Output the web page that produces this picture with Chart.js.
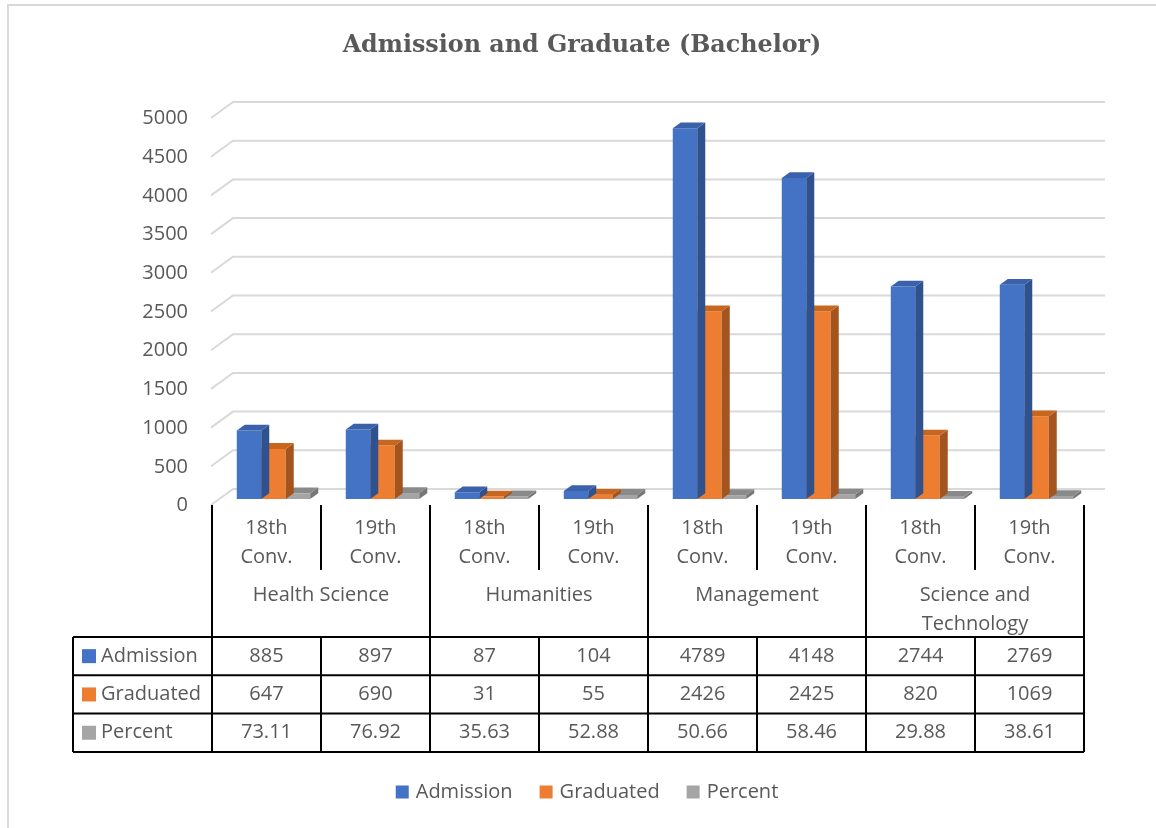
<!DOCTYPE html>
<html>
<head>
<meta charset="utf-8">
<title>Admission and Graduate (Bachelor)</title>
<script src="https://cdn.jsdelivr.net/npm/chart.js@4.4.1/dist/chart.umd.min.js"></script>
<style>
  html, body { margin: 0; padding: 0; background: #fff; }
  #wrap { width: 1156px; height: 828px; }
</style>
</head>
<body>
<div id="wrap"><canvas id="admChart" width="1156" height="828"></canvas></div>
<script>
// Data
const groups = ["Health Science", "Humanities", "Management", "Science and Technology"];
const categories = [
  "18th Conv.", "19th Conv.", "18th Conv.", "19th Conv.",
  "18th Conv.", "19th Conv.", "18th Conv.", "19th Conv.",
];
const admission = [885, 897, 87, 104, 4789, 4148, 2744, 2769];
const graduated = [647, 690, 31, 55, 2426, 2425, 820, 1069];
const percent = [73.11, 76.92, 35.63, 52.88, 50.66, 58.46, 29.88, 38.61];
const yMin = 0;
const yMax = 5000;
const yStep = 500;

const ink = "#595959";
const font = "'Open Sans', sans-serif";
const DX = 8, DY = 5.8; // fake depth of each bar
const SHIFT = 7; // bars sit a little right of the table columns

// Draws the 3D look, the data table, title, legend and frame
const excelLook = {
  id: "excelLook",
  beforeDatasetsDraw(chart) {
    const { ctx, chartArea: a, scales: { y } } = chart;
    ctx.save();
    ctx.strokeStyle = "#d9d9d9";
    ctx.lineWidth = 2;
    y.ticks.forEach((t) => {
      const py = y.getPixelForValue(t.value);
      ctx.beginPath();
      ctx.moveTo(a.left - 8, py + 6);
      ctx.lineTo(a.left + 14, py - 10);
      ctx.lineTo(a.right + 14, py - 10);
      ctx.stroke();
    });
    ctx.restore();
  },
  afterDatasetDraw(chart, args) {
    const ds = chart.data.datasets[args.index];
    const ctx = chart.ctx;
    ctx.save();
    args.meta.data.forEach((bar) => {
      const { x, y, base, width } = bar.getProps(["x", "y", "base", "width"], true);
      const l = x - width / 2;
      const r = x + width / 2;
      // side face
      ctx.fillStyle = ds.sideColor;
      ctx.beginPath();
      ctx.moveTo(r, y);
      ctx.lineTo(r + DX, y - DY);
      ctx.lineTo(r + DX, base - DY);
      ctx.lineTo(r, base);
      ctx.closePath();
      ctx.fill();
      // top face
      ctx.fillStyle = ds.topColor;
      ctx.beginPath();
      ctx.moveTo(l, y);
      ctx.lineTo(l + DX, y - DY);
      ctx.lineTo(r + DX, y - DY);
      ctx.lineTo(r, y);
      ctx.closePath();
      ctx.fill();
    });
    ctx.restore();
  },
  afterDraw(chart) {
    const { ctx, chartArea: a } = chart;
    const colW = (a.right - a.left) / categories.length;
    const xAt = (i) => a.left - SHIFT + i * colW;
    const labelTop = 505, subBottom = 570, tableTop = 637, rowH = 38.3;
    const tableLeft = 73;

    ctx.save();

    // frame
    ctx.strokeStyle = "#d9d9d9";
    ctx.lineWidth = 2;
    ctx.beginPath();
    ctx.moveTo(8, 828);
    ctx.lineTo(8, 5);
    ctx.lineTo(1156, 5);
    ctx.stroke();

    // title, sized to the width it has in the original
    const title = "Admission and Graduate (Bachelor)";
    ctx.fillStyle = ink;
    ctx.textAlign = "center";
    ctx.textBaseline = "alphabetic";
    ctx.font = "bold 24px 'DejaVu Serif', serif";
    const size = 24 * 478 / ctx.measureText(title).width;
    ctx.font = "bold " + size.toFixed(1) + "px 'DejaVu Serif', serif";
    ctx.fillText(title, 582, 52);

    // category axis as a table header
    ctx.textBaseline = "middle";
    ctx.strokeStyle = "#000";
    ctx.lineWidth = 2;
    for (let i = 0; i <= categories.length; i++) {
      ctx.beginPath();
      ctx.moveTo(xAt(i), labelTop);
      ctx.lineTo(xAt(i), i % 2 === 0 ? tableTop : subBottom);
      ctx.stroke();
    }
    ctx.font = "20px " + font;
    categories.forEach((c, i) => {
      const cx = xAt(i) + colW / 2;
      c.split(" ").forEach((part, k) => ctx.fillText(part, cx, 528 + k * 29));
    });
    groups.forEach((g, gi) => {
      const cx = xAt(gi * 2) + colW;
      let lines = [g];
      if (ctx.measureText(g).width > colW * 2 - 20) {
        const words = g.split(" ");
        lines = [words.slice(0, -1).join(" "), words[words.length - 1]];
      }
      lines.forEach((line, k) => ctx.fillText(line, cx, 595 + k * 29));
    });

    // data table
    const rows = chart.data.datasets;
    const right = xAt(categories.length);
    for (let k = 0; k <= rows.length; k++) {
      const yy = tableTop + k * rowH;
      ctx.beginPath();
      ctx.moveTo(tableLeft, yy);
      ctx.lineTo(right, yy);
      ctx.stroke();
    }
    const tableBottom = tableTop + rows.length * rowH;
    [tableLeft].concat(categories.map((_, i) => xAt(i))).concat([right]).forEach((xx) => {
      ctx.beginPath();
      ctx.moveTo(xx, tableTop);
      ctx.lineTo(xx, tableBottom);
      ctx.stroke();
    });
    rows.forEach((ds, k) => {
      const cy = tableTop + k * rowH + rowH / 2;
      ctx.fillStyle = ds.backgroundColor;
      ctx.fillRect(82, cy - 7, 14, 14);
      ctx.fillStyle = ink;
      ctx.textAlign = "left";
      ctx.fillText(ds.label, 101, cy);
      ctx.textAlign = "center";
      ds.data.forEach((v, i) => {
        const txt = Number.isInteger(v) ? String(v) : v.toFixed(2);
        ctx.fillText(txt, xAt(i) + colW / 2, cy);
      });
    });

    // legend
    const gap = 27, box = 13, pad = 7;
    const widths = rows.map((ds) => box + pad + ctx.measureText(ds.label).width);
    const total = widths.reduce((s, w) => s + w, 0) + gap * (rows.length - 1);
    let lx = 587 - total / 2;
    const ly = 792;
    ctx.textAlign = "left";
    rows.forEach((ds, k) => {
      ctx.fillStyle = ds.backgroundColor;
      ctx.fillRect(lx, ly - box / 2, box, box);
      ctx.fillStyle = ink;
      ctx.fillText(ds.label, lx + box + pad, ly);
      lx += widths[k] + gap;
    });

    ctx.restore();
  },
};

const ctx = document.getElementById("admChart");
new Chart(ctx, {
  type: "bar",
  data: {
    labels: categories,
    datasets: [
      {
        label: "Admission",
        data: admission,
        backgroundColor: "#4472C4",
        sideColor: "#2F528F",
        topColor: "#3A62AB",
      },
      {
        label: "Graduated",
        data: graduated,
        backgroundColor: "#ED7D31",
        sideColor: "#A4541E",
        topColor: "#C8661F",
      },
      {
        label: "Percent",
        data: percent,
        backgroundColor: "#A5A5A5",
        sideColor: "#767676",
        topColor: "#8A8A8A",
      },
    ],
  },
  options: {
    responsive: false,
    animation: false,
    devicePixelRatio: 1,
    layout: { padding: { top: 112, bottom: 329, left: 0, right: 65 } },
    datasets: {
      bar: { barPercentage: 1, categoryPercentage: 0.674, borderWidth: 0 },
    },
    scales: {
      x: { display: false },
      y: {
        min: yMin,
        max: yMax,
        ticks: {
          stepSize: yStep,
          padding: 31,
          labelOffset: 6.5,
          color: ink,
          font: { family: "Open Sans", size: 20 },
          callback: (v) => String(v),
        },
        grid: { display: false, drawTicks: false },
        border: { display: false },
        afterFit(scale) {
          scale.width = 219;
        },
      },
    },
    plugins: {
      legend: { display: false },
      tooltip: { enabled: false },
    },
  },
  plugins: [excelLook],
});
</script>
</body>
</html>
